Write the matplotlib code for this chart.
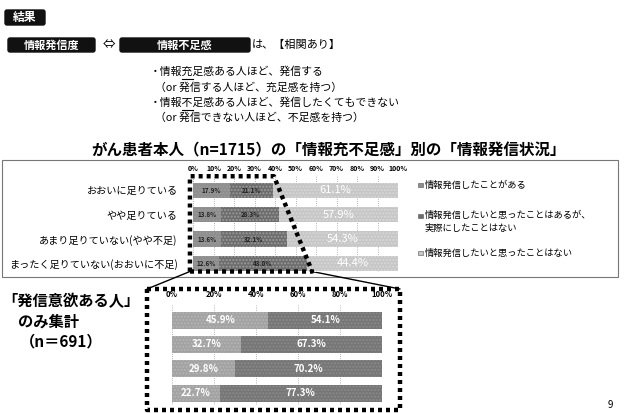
import matplotlib
matplotlib.use('Agg')
import matplotlib.pyplot as plt
import matplotlib.patches as mpatches
from matplotlib.patches import ConnectionPatch
import numpy as np

plt.rcParams['font.family'] = ['Noto Sans CJK JP', 'DejaVu Sans']

# データ
categories = ['おおいに足りている', 'やや足りている',
              'あまり足りていない(やや不足)', 'まったく足りていない(おおいに不足)']
sent = [17.9, 13.8, 13.6, 12.6]          # 情報発信したことがある
wanted = [21.1, 28.3, 32.1, 43.0]        # 発信したいと思ったが実際はない
never = [61.1, 57.9, 54.3, 44.4]         # 発信したいと思ったことはない
legend_labels = ['情報発信したことがある',
                 '情報発信したいと思ったことはあるが、\n実際にしたことはない',
                 '情報発信したいと思ったことはない']
sub_sent = [45.9, 32.7, 29.8, 22.7]
sub_wanted = [54.1, 67.3, 70.2, 77.3]
top_ticks = list(range(0, 101, 10))
sub_ticks = list(range(0, 101, 20))

W, H, dpi = 624, 413, 100
fig = plt.figure(figsize=(W / dpi, H / dpi), dpi=dpi)

# 全体用（ピクセル座標、上が0）
ov = fig.add_axes([0, 0, 1, 1], zorder=0)
ov.set_xlim(0, W)
ov.set_ylim(H, 0)
ov.axis('off')


def px_axes(x0, x1, y0, y1):
    return fig.add_axes([x0 / W, 1 - y1 / H, (x1 - x0) / W, (y1 - y0) / H], zorder=2)


def black_box(x0, x1, y0, y1, text, size=8):
    ov.add_patch(mpatches.FancyBboxPatch((x0, y0), x1 - x0, y1 - y0,
                                         boxstyle='round,pad=0,rounding_size=2',
                                         fc='#111111', ec='#111111'))
    ov.text((x0 + x1) / 2, (y0 + y1) / 2, text, color='white', fontsize=size,
            fontweight='bold', ha='center', va='center')


# 上部テキスト
black_box(5, 45, 10, 25, '結果', 8.5)
black_box(8, 95, 38, 52, '情報発信度')
ov.text(103, 45, '⇔', fontsize=9, va='center')
black_box(120, 250, 38, 52, '情報不足感')
ov.text(252, 45, 'は、【相関あり】', fontsize=8, va='center')

ov.text(150, 72, '・情報充足感ある人ほど、発信する', fontsize=7.8, va='center')
ov.text(155, 88, '（or 発信する人ほど、充足感を持つ）', fontsize=7.8, va='center')
ov.text(150, 103, '・情報不足感ある人ほど、発信したくてもできない', fontsize=7.8, va='center')
ov.text(155, 118, '（or 発信できない人ほど、不足感を持つ）', fontsize=7.8, va='center')
ov.plot([182, 193], [79, 79], color='black', lw=0.8)
ov.plot([182, 193], [110, 110], color='black', lw=0.8)

ov.text(328, 150, 'がん患者本人（n=1715）の「情報充不足感」別の「情報発信状況」',
        fontsize=11.2, fontweight='bold', ha='center', va='center')

# 上のグラフの外枠
ov.add_patch(mpatches.Rectangle((2, 160), 616, 117, fill=False, ec='#777777', lw=0.8))

# 上のグラフ
c1, c2, c3 = '#8e8e8e', '#6c6c6c', '#c6c6c6'
ax1 = px_axes(193, 398, 176, 272)
y = np.arange(len(categories))
left = np.zeros(len(categories))
for vals, col in [(sent, c1), (wanted, c2), (never, c3)]:
    ax1.barh(y, vals, left=left, height=0.62, color=col, hatch='.....',
             edgecolor='#9a9a9a' if col != c3 else '#d8d8d8', lw=0)
    left = left + np.array(vals)
ax1.set_xlim(0, 100)
ax1.set_ylim(3.35, -0.58)
ax1.set_xticks(top_ticks)
ax1.set_xticklabels(['%d%%' % t for t in top_ticks], fontsize=5, fontweight='bold')
ax1.xaxis.tick_top()
ax1.tick_params(length=0, pad=3)
ax1.set_yticks(y)
ax1.set_yticklabels(categories, fontsize=7.3)
ax1.tick_params(axis='y', pad=11)
for s in ax1.spines.values():
    s.set_visible(False)
ax1.grid(axis='x', ls=':', color='#999999', lw=0.6)
ax1.set_axisbelow(True)
ax1.set_facecolor('white')
for i in range(len(categories)):
    ax1.text(sent[i] / 2, i, '%.1f%%' % sent[i], fontsize=4.5, ha='center',
             va='center', color='#222222', fontweight='bold')
    ax1.text(sent[i] + wanted[i] / 2, i, '%.1f%%' % wanted[i], fontsize=4.5,
             ha='center', va='center', color='#222222', fontweight='bold')
    ax1.text(sent[i] + wanted[i] + never[i] / 2, i, '%.1f%%' % never[i],
             fontsize=8, ha='center', va='center', color='white')

# 点線の囲み（発信意欲あり部分）
dot = dict(color='black', lw=3.2, ls=(0, (0.9, 0.9)), clip_on=False)
ends = [sent[i] + wanted[i] for i in range(len(categories))]
x_left = -1.5
ax1.plot([x_left, x_left, ends[0] + 0.5, ends[-1] + 2.5, x_left],
         [3.33, -0.57, -0.57, 3.33, 3.33], **dot)

# 凡例
leg_y = [185, 216, 253]
for (ly, lab, col) in zip(leg_y, legend_labels, [c1, c2, c3]):
    ov.add_patch(mpatches.Rectangle((418, ly - 2.5), 4.5, 4.5, fc=col, ec='#555555', lw=0.4))
    ov.text(425, ly, lab, fontsize=6.7, va='top' if '\n' in lab else 'center',
            linespacing=1.5, transform=ov.transData)
ov.texts[-2].set_y(216 - 5)

# 下のグラフ
s1, s2 = '#a2a2a2', '#767676'
ax2 = px_axes(172, 382, 305, 405)
y2 = np.arange(len(sub_sent))
ax2.barh(y2, sub_sent, height=0.7, color=s1, hatch='.....', edgecolor='#b5b5b5', lw=0)
ax2.barh(y2, sub_wanted, left=sub_sent, height=0.7, color=s2, hatch='.....',
         edgecolor='#8a8a8a', lw=0)
ax2.set_xlim(0, 100)
ax2.set_ylim(3.49, -0.62)
ax2.set_xticks(sub_ticks)
ax2.set_xticklabels(['%d%%' % t for t in sub_ticks], fontsize=5.5, fontweight='bold')
ax2.xaxis.tick_top()
ax2.tick_params(length=0, pad=4)
ax2.set_yticks([])
for s in ax2.spines.values():
    s.set_visible(False)
ax2.grid(axis='x', ls=':', color='#999999', lw=0.6)
ax2.set_axisbelow(True)
for i in range(len(sub_sent)):
    ax2.text(sub_sent[i] / 2, i, '%.1f%%' % sub_sent[i], fontsize=7, ha='center',
             va='center', color='white', fontweight='bold')
    ax2.text(sub_sent[i] + sub_wanted[i] / 2, i, '%.1f%%' % sub_wanted[i], fontsize=7,
             ha='center', va='center', color='white', fontweight='bold')

# 下の点線枠
ov.plot([147, 400, 400, 147, 147], [289, 289, 410, 410, 289],
        color='black', lw=3.2, ls=(0, (0.9, 0.9)))

# つなぎ線
for xa, xb in [(x_left, 147), (ends[-1] + 2.5, 400)]:
    con = ConnectionPatch(xyA=(xa, 3.33), coordsA=ax1.transData,
                          xyB=(xb, 289), coordsB=ov.transData,
                          color='black', lw=1.0)
    fig.add_artist(con)

# 左側の説明
ov.text(2, 301, '「発信意欲ある人」', fontsize=11, fontweight='bold', va='center')
ov.text(18, 322, 'のみ集計', fontsize=11, fontweight='bold', va='center')
ov.text(20, 341, '（n＝691）', fontsize=11, fontweight='bold', va='center')

ov.text(610, 405, '9', fontsize=7, ha='center', va='center')

fig.savefig('out.png', dpi=dpi)
